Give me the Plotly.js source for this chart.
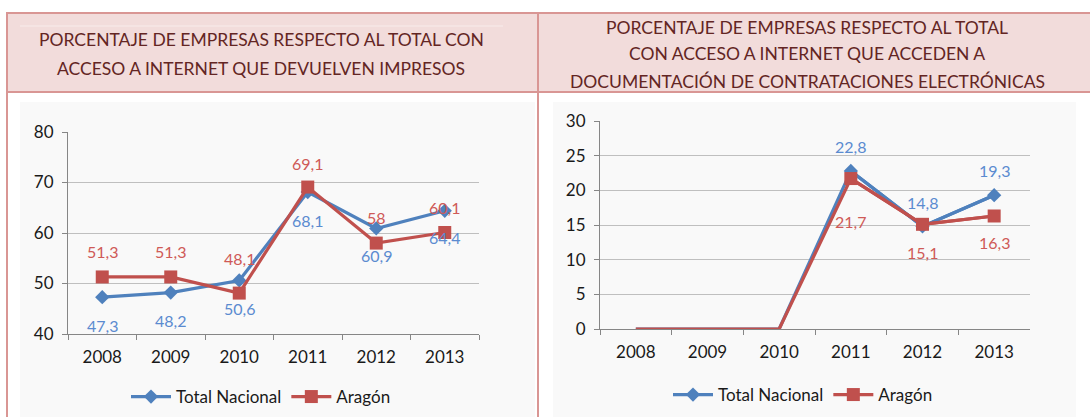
<!DOCTYPE html>
<html>
<head>
<meta charset="utf-8">
<script src="https://cdn.plot.ly/plotly-3.0.1.min.js"></script>
<style>html,body{margin:0;padding:0;background:#fff;}#chart{width:1090px;height:417px;}</style>
</head>
<body>
<div id="chart"></div>
<script>
// ---- data ----
const years = ["2008", "2009", "2010", "2011", "2012", "2013"];
const impresosNacional = [47.3, 48.2, 50.6, 68.1, 60.9, 64.4];
const impresosAragon = [51.3, 51.3, 48.1, 69.1, 58, 60.1];
const contratNacional = [0, 0, 0, 22.8, 14.8, 19.3];
const contratAragon = [0, 0, 0, 21.7, 15.1, 16.3];
const seriesNames = ["Total Nacional", "Aragón"];
const titleLeft = ["PORCENTAJE DE EMPRESAS RESPECTO AL TOTAL CON", "ACCESO A INTERNET QUE DEVUELVEN IMPRESOS"];
const titleRight = ["PORCENTAJE DE EMPRESAS RESPECTO AL TOTAL", "CON ACCESO A INTERNET QUE ACCEDEN A", "DOCUMENTACIÓN DE CONTRATACIONES ELECTRÓNICAS"];

// ---- style ----
const W = 1090, H = 417;
const BLUE = "#4f81bd", RED = "#c0504d";
const BLUE_T = "#5b8bd0", RED_T = "#cf5a57";
const FONT = "Lato, 'Open Sans', sans-serif";
const px = x => x / W;
const py = y => 1 - y / H;
const fmt = v => String(v).replace(".", ",");

const styles = [
  {name: seriesNames[0], line: {color: BLUE, width: 3.2}, marker: {symbol: "diamond", size: 11, color: BLUE}},
  {name: seriesNames[1], line: {color: RED, width: 3.2}, marker: {symbol: "square", size: 13, color: RED}}
];

function series(xa, ya, vals, st, legend, hideZero) {
  const idx = vals.map((v, i) => i).filter(i => !(hideZero && vals[i] === 0));
  const out = [];
  if (hideZero) {
    out.push({x: years, y: vals, xaxis: xa, yaxis: ya, name: st.name, legend: legend, legendgroup: legend + st.name,
      showlegend: false, mode: "lines", line: st.line});
  }
  out.push({x: idx.map(i => years[i]), y: idx.map(i => vals[i]), xaxis: xa, yaxis: ya, name: st.name,
    legend: legend, legendgroup: legend + st.name, mode: "lines+markers", line: st.line, marker: st.marker});
  return out;
}

const data = [
  ...series("x", "y", impresosNacional, styles[0], "legend", false),
  ...series("x", "y", impresosAragon, styles[1], "legend", false),
  ...series("x2", "y2", contratNacional, styles[0], "legend2", true),
  ...series("x2", "y2", contratAragon, styles[1], "legend2", true)
];

// label offsets (px, positive = up)
const shLeftN = [-28, -28, -28, -28, -27, -27];
const shLeftA = [25, 25, 35, 24, 26, 25];
const shRightN = [0, 0, 0, 24, 24, 25];
const shRightA = [0, 0, 0, -43, -28, -27];

const annotations = [];
function labels(xa, ya, vals, shifts, color, skipZero) {
  vals.forEach((v, i) => {
    if (skipZero && v === 0) return;
    annotations.push({x: i, y: v, xref: xa, yref: ya, text: fmt(v), showarrow: false,
      yshift: shifts[i], font: {family: FONT, size: 16, color: color}});
  });
}
labels("x", "y", impresosNacional, shLeftN, BLUE_T, false);
labels("x", "y", impresosAragon, shLeftA, RED_T, false);
labels("x2", "y2", contratNacional, shRightN, BLUE_T, true);
labels("x2", "y2", contratAragon, shRightA, RED_T, true);

titleLeft.forEach((t, i) => annotations.push({x: px(261), y: py(40 + i * 28), xref: "paper", yref: "paper",
  text: t, showarrow: false, xanchor: "center", yanchor: "middle",
  font: {family: FONT, size: 17.5, color: "#632523"}}));
titleRight.forEach((t, i) => annotations.push({x: px(807), y: py(27 + i * 27), xref: "paper", yref: "paper",
  text: t, showarrow: false, xanchor: "center", yanchor: "middle",
  font: {family: FONT, size: 17.5, color: "#632523"}}));

const shapes = [
  {type: "rect", xref: "paper", yref: "paper", x0: px(20), x1: px(535), y0: py(417), y1: py(102), fillcolor: "#f9f9f9", line: {width: 0}, layer: "below"},
  {type: "rect", xref: "paper", yref: "paper", x0: px(553), x1: px(1076), y0: py(417), y1: py(102), fillcolor: "#f9f9f9", line: {width: 0}, layer: "below"},
  {type: "rect", xref: "paper", yref: "paper", x0: px(7), x1: px(1092), y0: py(92), y1: py(13), fillcolor: "#f2dcdb", line: {color: "#d99694", width: 2}, layer: "below"},
  {type: "line", xref: "paper", yref: "paper", x0: px(20), x1: px(503), y0: py(26), y1: py(26), line: {color: "#f8eceb", width: 1}, layer: "below"},
  {type: "line", xref: "paper", yref: "paper", x0: px(7), x1: px(7), y0: py(13), y1: py(420), line: {color: "#d99694", width: 2}},
  {type: "line", xref: "paper", yref: "paper", x0: px(538), x1: px(538), y0: py(13), y1: py(420), line: {color: "#d99694", width: 2}}
];

const axX = dom => ({domain: dom, type: "category", range: [-0.5, 5.5], showgrid: false,
  showline: true, linecolor: "#868686", linewidth: 1, ticks: "outside", tickson: "boundaries",
  ticklen: 5, tickcolor: "#868686", ticklabelstandoff: 8,
  tickfont: {family: FONT, size: 17, color: "#1a1a1a"}, fixedrange: true});
const axY = (dom, r, dt) => ({domain: dom, range: r, dtick: dt, showgrid: true, gridcolor: "#bfbfbf",
  showline: true, linecolor: "#868686", linewidth: 1, ticks: "outside", ticklen: 5, tickcolor: "#868686",
  ticklabelstandoff: 5, zeroline: false, tickfont: {family: FONT, size: 17, color: "#1a1a1a"}, fixedrange: true});

const legFont = {family: FONT, size: 17, color: "#1a1a1a"};
const layout = {
  width: W, height: H, margin: {l: 0, r: 0, t: 0, b: 0},
  paper_bgcolor: "rgba(0,0,0,0)", plot_bgcolor: "rgba(0,0,0,0)",
  showlegend: true,
  xaxis: {...axX([px(68), px(479)]), anchor: "y"},
  yaxis: {...axY([py(334), py(132)], [40, 80], 10), anchor: "x"},
  xaxis2: {...axX([px(600), px(1030)]), anchor: "y2"},
  yaxis2: {...axY([py(329), py(121)], [0, 30], 5), anchor: "x2"},
  legend: {orientation: "h", x: px(261), y: py(397), xanchor: "center", yanchor: "middle",
    font: legFont, bgcolor: "rgba(0,0,0,0)", itemwidth: 40, tracegroupgap: 0},
  legend2: {orientation: "h", x: px(803), y: py(395), xanchor: "center", yanchor: "middle",
    font: legFont, bgcolor: "rgba(0,0,0,0)", itemwidth: 40, tracegroupgap: 0},
  annotations: annotations,
  shapes: shapes
};

Plotly.newPlot("chart", data, layout, {displayModeBar: false, staticPlot: true});
</script>
</body>
</html>
